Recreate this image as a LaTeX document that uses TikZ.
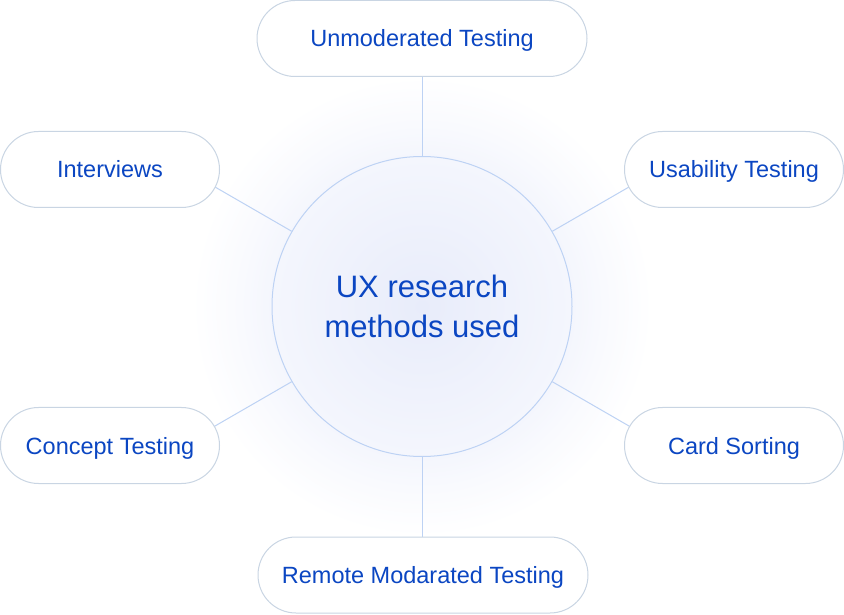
\documentclass[tikz,border=0pt]{standalone}
\usepackage{fontspec}
\setmainfont{Liberation Sans}
\usetikzlibrary{calc}
\definecolor{textblue}{HTML}{0B46C2}
\definecolor{pillgray}{HTML}{C9D5E3}
\definecolor{ringblue}{HTML}{BDD2F4}
\definecolor{glowin}{HTML}{E8ECFA}
\definecolor{glowmid}{HTML}{F4F6FD}
\definecolor{glowout}{HTML}{F9FAFE}
\pgfdeclareradialshading{uxglow}{\pgfpoint{0bp}{0bp}}{color(0bp)=(glowin); color(15.6bp)=(glowmid); color(19bp)=(glowout); color(24bp)=(white); color(50bp)=(white)}
\begin{document}
\begin{tikzpicture}[x=1pt,y=1pt,line width=1pt,
  pill/.style={draw=pillgray,fill=white,rounded corners=38pt,minimum height=76pt,text=textblue,
    font=\fontsize{23.5}{28}\selectfont,text height=17pt,text depth=0pt},
  link/.style={draw=ringblue}]
\useasboundingbox (0,0) rectangle (844,614);
\shade[shading=uxglow] (422,307.5) circle (240);
\node[circle,draw=ringblue,minimum size=300pt,inner sep=0pt,align=center,text=textblue,
  font=\fontsize{31}{40}\selectfont] (c) at (422,307.5) {UX research\\methods used};
% spokes, their outer ends sit under the pills
\foreach \a/\n in {90/um,30/ut,150/iv,210/ct,330/cs,270/rm}{
  \coordinate (\n-in) at ($(c.center)+(\a:245)$); \draw[link] (c.\a) -- (\n-in);}
\node[pill,minimum width=330pt] (um) at (422,575.5) {Unmoderated Testing};
\node[pill,minimum width=219pt] (iv) at (110,444.5) {Interviews};
\node[pill,minimum width=219pt] (ut) at (734,444.5) {Usability Testing};
\node[pill,minimum width=219pt] (ct) at (110,168.5) {Concept Testing};
\node[pill,minimum width=219pt] (cs) at (734,168.5) {Card Sorting};
\node[pill,minimum width=330pt] (rm) at (423,39) {Remote Modarated Testing};
\end{tikzpicture}
\end{document}
